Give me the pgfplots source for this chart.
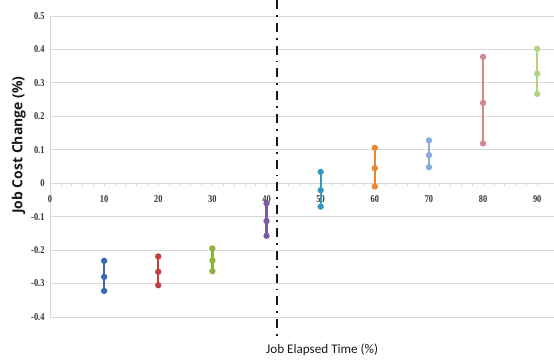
\documentclass[border=0pt]{standalone}
\usepackage{pgfplots}
\pgfplotsset{compat=1.18}
\usepackage{fontspec}
\setmainfont{Liberation Serif}
\newfontfamily\tickfont[FakeStretch=0.8]{Liberation Serif}
\newfontfamily\ylabfont{Open Sans}
\newfontfamily\xlabfont{Carlito}
\definecolor{cA}{RGB}{60,105,180}
\definecolor{cB}{RGB}{192,64,64}
\definecolor{cC}{RGB}{140,180,60}
\definecolor{cD}{RGB}{125,90,165}
\definecolor{cE}{RGB}{50,155,185}
\definecolor{cF}{RGB}{235,135,50}
\definecolor{cG}{RGB}{140,170,215}
\definecolor{cH}{RGB}{215,135,140}
\definecolor{cI}{RGB}{180,210,130}
\definecolor{gridc}{RGB}{217,217,217}
\begin{document}
\begin{tikzpicture}
\path[use as bounding box] (-50bp,-43bp) rectangle (504bp,317bp);
\begin{axis}[
  at={(0,0)}, anchor=south west,
  scale only axis, width=504bp, height=301bp,
  xmin=0, xmax=93.1, ymin=-0.4, ymax=0.5,
  axis x line=middle, axis y line=left,
  hide obscured x ticks=false, hide obscured y ticks=false,
  x axis line style={-, draw=gridc, line width=0.8bp},
  y axis line style={-, draw=gridc, line width=0.8bp},
  xtick={0,10,...,90}, minor x tick num=4,
  ytick={-0.4,-0.3,...,0.5},
  ymajorgrids, grid style={draw=gridc, line width=0.8bp},
  tick align=outside,
  major tick length=3bp, minor tick length=3bp,
  x tick style={draw=gridc, line width=0.6bp},
  y tick style={draw=none},
  /pgf/number format/assume math mode=true,
  /pgf/number format/fixed, /pgf/number format/precision=1,
  tick label style={font=\tickfont\bfseries\fontsize{10.5}{12}\selectfont, text=black!80},
  xticklabel style={yshift=-6bp},
  yticklabel style={xshift=1bp},
  xlabel={Job Elapsed Time (\%)},
  ylabel={Job Cost Change (\%)},
  xlabel style={font=\xlabfont\fontsize{13.2}{15}\selectfont, text=black!90, at={(axis description cs:0.54,-0.1096)}, anchor=center},
  ylabel style={font=\ylabfont\bfseries\fontsize{14}{16}\selectfont, text=black!90, at={(axis description cs:-0.062,0.571)}, anchor=center},
  clip=false,
  every axis plot/.append style={line width=2.2bp, mark=*, mark size=2bp},
]
\addplot[black!90, line width=2bp, mark=none, dash pattern=on 9bp off 6bp on 1.8bp off 6bp] coordinates {(42,0.548) (42,-0.46)};
\addplot[cA] coordinates {(10,-0.322) (10,-0.280) (10,-0.232)};
\addplot[cB] coordinates {(20,-0.305) (20,-0.265) (20,-0.219)};
\addplot[cC] coordinates {(30,-0.263) (30,-0.231) (30,-0.195)};
\addplot[cD] coordinates {(40,-0.157) (40,-0.113) (40,-0.060)};
\addplot[cE] coordinates {(50,-0.070) (50,-0.021) (50,0.034)};
\addplot[cF] coordinates {(60,-0.010) (60,0.045) (60,0.106)};
\addplot[cG] coordinates {(70,0.048) (70,0.084) (70,0.128)};
\addplot[cH] coordinates {(80,0.119) (80,0.240) (80,0.378)};
\addplot[cI] coordinates {(90,0.267) (90,0.328) (90,0.402)};
\end{axis}
\end{tikzpicture}
\end{document}
